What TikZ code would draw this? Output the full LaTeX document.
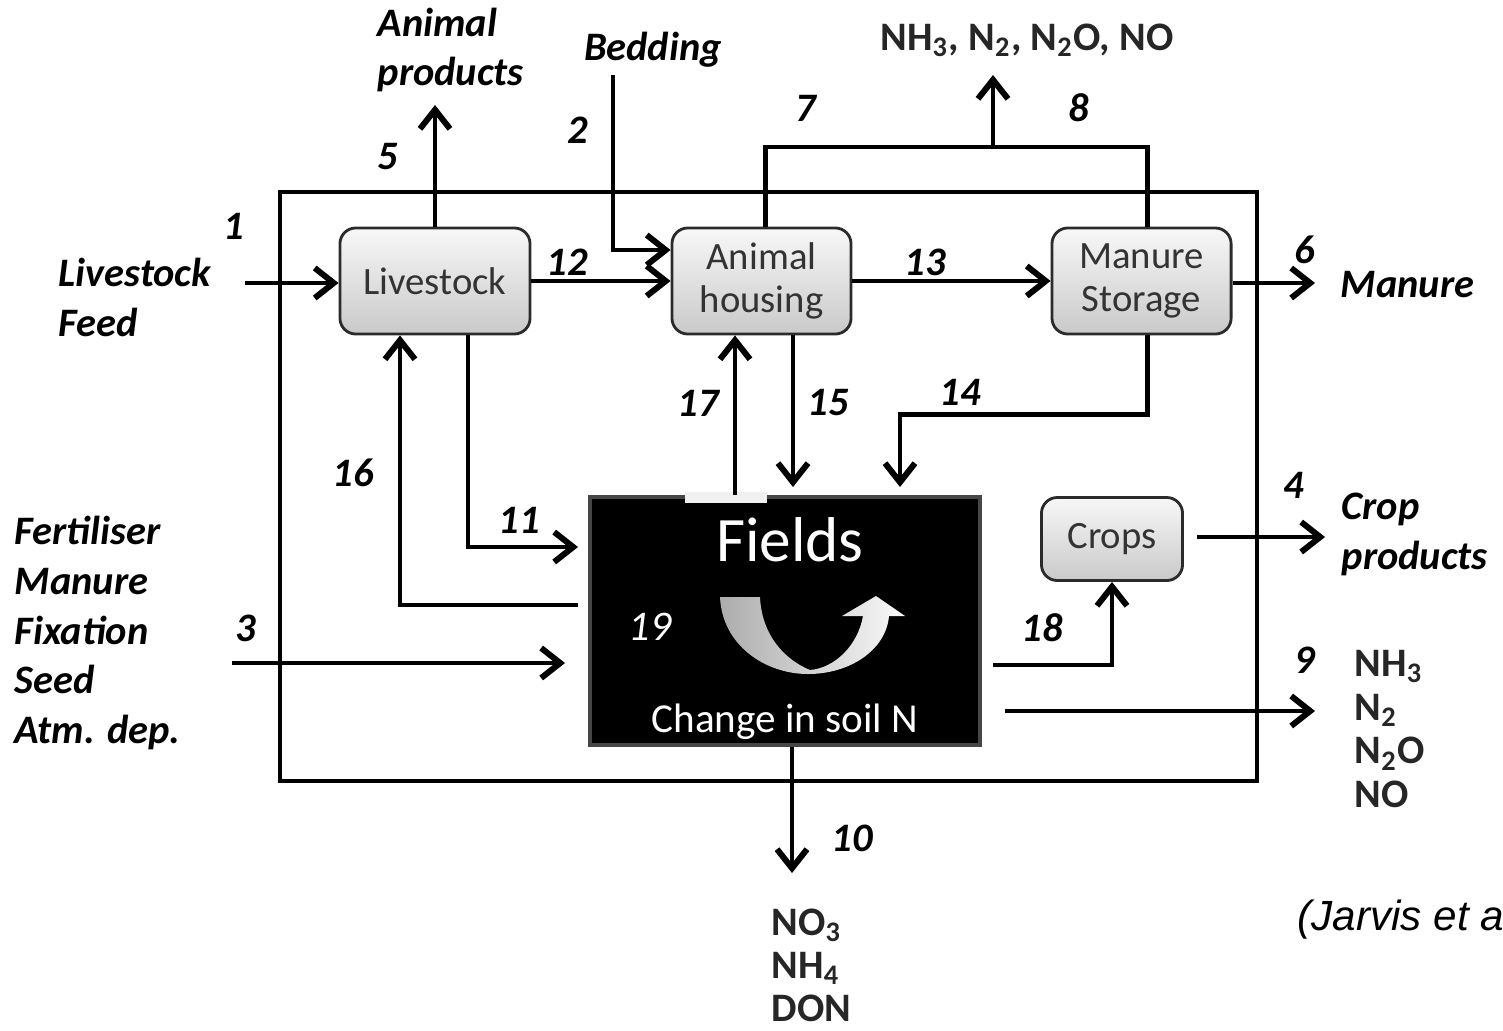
\documentclass[tikz,border=0pt]{standalone}
\usepackage{fontspec}
\setmainfont{Carlito}
\newfontfamily\citefont{Liberation Sans}
\usetikzlibrary{arrows.meta, positioning, calc}
\definecolor{BoxLine}{HTML}{2B2B2B}
\definecolor{BoxText}{HTML}{333333}
\newcommand{\chemsub}[1]{\textsubscript{#1}}
\tikzset{
  pbox/.style={draw=BoxLine, thick, rounded corners=4.5pt, align=center,
    top color=gray!6, bottom color=gray!42, text=BoxText, inner sep=0pt,
    font=\fontsize{11}{12.4}\selectfont, minimum height=1.06cm},
  fbox/.style={draw=gray!55!black, line width=1pt, fill=black,
    minimum width=3.9cm, minimum height=2.48cm, inner sep=0pt},
  flow/.style={-{Straight Barb[length=1.9mm, width=3mm, line width=1.7pt]}, line width=1.35pt},
  link/.style={line width=1.35pt},
  ilab/.style={font=\bfseries\itshape\fontsize{11.5}{14.2}\selectfont, align=left, inner sep=0pt},
  nlab/.style={font=\bfseries\itshape\fontsize{11.5}{14}\selectfont},
  glab/.style={font=\bfseries\fontsize{11.5}{12.5}\selectfont, align=left, text=black!85, inner sep=0pt},
}

\begin{document}
\begin{tikzpicture}[x=0.01cm, y=-0.01cm]
  \useasboundingbox (0,0) rectangle (1503,1030);
  % farm boundary
  \draw[line width=0.9pt] (280,192) rectangle (1257,781);

  \node[pbox, minimum width=1.9cm] (live) at (435,281) {Livestock};
  \node[pbox, minimum width=1.79cm, right=1.39cm of live] (house) {Animal\\housing};
  \node[pbox, minimum width=1.79cm, right=1.98cm of house] (store) {Manure\\Storage};
  \node[fbox] (fields) at (785,621) {};
  \node[pbox, minimum width=1.41cm, minimum height=0.83cm] (crops) at (1112,539) {Crops};

  % inside the fields
  \fill[gray!12] (685,492) rectangle (767,503);
  \node[text=white, font=\fontsize{18}{20}\selectfont] (ftitle) at (790,540) {Fields};
  \node[text=white, font=\fontsize{11.7}{13}\selectfont] (fsoil) at (785,722) {Change in soil N};
  \node[text=white, font=\itshape\fontsize{12}{14}\selectfont] (n19) at (650,627) {19};
  \shade[left color=gray!65, right color=gray!4]
    (720,597) .. controls (722,645) and (765,674) .. (808,674)
    .. controls (850,674) and (886,650) .. (889,616) -- (905,616) -- (876,596)
    -- (842,616) -- (863,616) .. controls (858,645) and (835,668) .. (810,670)
    .. controls (790,662) and (762,640) .. (760,597) -- cycle;

  % inputs
  \node[ilab, anchor=west] (feed) at (58,297) {Livestock\\Feed};
  \node[ilab, anchor=west] (prod) at (377,50) {Animal\\products};
  \node[ilab] (bed) at (653,50) {Bedding};
  \node[ilab, anchor=west] (inputs) at (14,633) {Fertiliser\\Manure\\Fixation\\Seed\\Atm. dep.};
  \node[glab] (gases) at (1027,40) {NH\chemsub{3}, N\chemsub{2}, N\chemsub{2}O, NO};
  \node[ilab, anchor=west] (manure) at (1340,285) {Manure};
  \node[ilab, anchor=west] (cprod) at (1341,534) {Crop\\products};
  \node[glab, anchor=west] (losses) at (1354,729) {NH\chemsub{3}\\N\chemsub{2}\\N\chemsub{2}O\\NO};
  \node[glab, anchor=west, font=\bfseries\fontsize{11.5}{12.2}\selectfont] (leachate) at (771,965) {NO\chemsub{3}\\NH\chemsub{4}\\DON};
  \node[font=\citefont\itshape\fontsize{12}{14}\selectfont, anchor=west, inner sep=0pt] (cite) at (1297,920) {(Jarvis et a};

  \coordinate (feedtail) at (245,283);
  \coordinate (prodtip) at (435,105);
  \coordinate (bedtail) at (613,75);
  \coordinate (gasjoin) at (993,147);
  \coordinate (gastip) at (993,75);
  \coordinate (manout) at (1315,283);
  \coordinate (f14) at (900,487);
  \coordinate (f15) at (793,487);
  \coordinate (f11) at (578,547);
  \coordinate (r16) at (578,605);
  \coordinate (in3) at (232,663);
  \coordinate (f3) at (565,663);
  \coordinate (r18) at (993,665);
  \coordinate (cropout) at (1325,537);
  \coordinate (r9) at (1005,711);
  \coordinate (gasout) at (1315,711);
  \coordinate (leach) at (792,873);

  \draw[flow] (feedtail) -- (feedtail -| live.west);
  \draw[flow] (live.north) -- (prodtip);
  \draw[flow] (bedtail) |- ($(house.west)+(0,-31)$);
  \draw[flow] (live) -- (house);
  \draw[flow] (house) -- (store);
  \draw[link] ($(house.north)+(4,0)$) |- (gasjoin) -| ($(store.north)+(6,0)$);
  \draw[flow] (gasjoin) -- (gastip);
  \draw[flow] (manout -| store.east) -- (manout);
  \draw[flow] ($(store.south)+(6,0)$) -- ++(0,79) -| (f14);
  \draw[flow] (house.south -| f15) -- (f15);
  \draw[flow] ($(fields.north)+(-50,0)$) coordinate (r17) -- (r17 |- house.south);
  \draw[flow] ($(live.south)+(33,0)$) |- (f11);
  \draw[flow] (r16) -| ($(live.south)+(-35,0)$);
  \draw[flow] (in3) -- (f3);
  \draw[flow] (r18) -| (crops.south);
  \draw[flow] ($(crops.east)+(13,-2)$) -- (cropout);
  \draw[flow] (r9) -- (gasout);
  \draw[flow] ($(fields.south)+(7,0)$) -- (leach);

  % flow numbers
  \node[nlab] (n1) at (234,226) {1};
  \node[nlab] (n2) at (578,130) {2};
  \node[nlab] (n3) at (246,628) {3};
  \node[nlab] (n4) at (1294,485) {4};
  \node[nlab] (n5) at (388,157) {5};
  \node[nlab] (n6) at (1305,250) {6};
  \node[nlab] (n7) at (806,108) {7};
  \node[nlab] (n8) at (1079,108) {8};
  \node[nlab] (n9) at (1305,660) {9};
  \node[nlab] (n10) at (852,838) {10};
  \node[nlab] (n11) at (519,520) {11};
  \node[nlab] (n12) at (567,262) {12};
  \node[nlab] (n13) at (925,262) {13};
  \node[nlab] (n14) at (960,392) {14};
  \node[nlab] (n15) at (828,403) {15};
  \node[nlab] (n16) at (353,473) {16};
  \node[nlab] (n17) at (698,403) {17};
  \node[nlab] (n18) at (1042,628) {18};
\end{tikzpicture}
\end{document}
